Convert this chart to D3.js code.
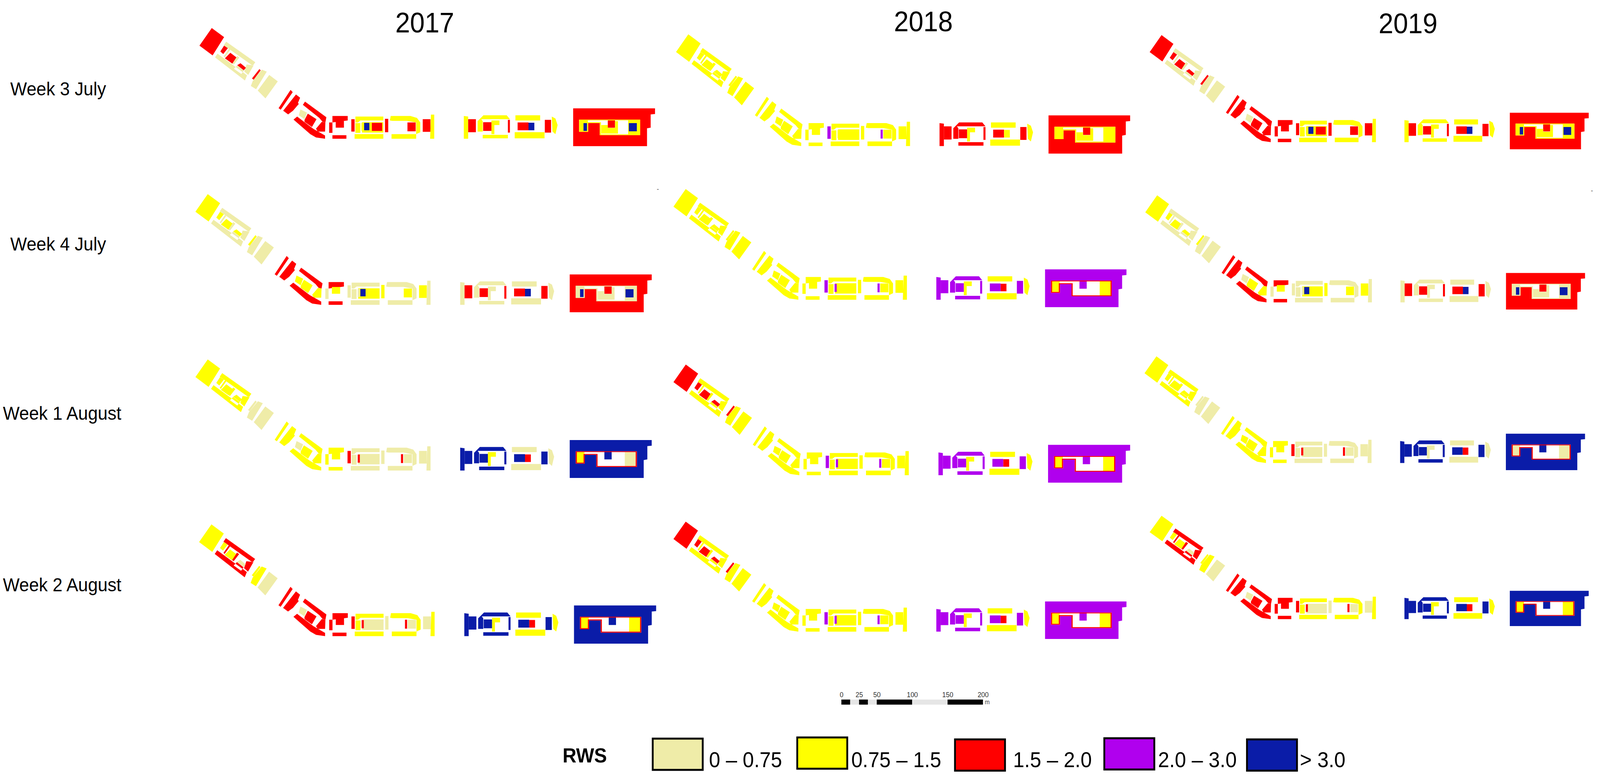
<!DOCTYPE html>
<html>
<head>
<meta charset="utf-8">
<script src="https://cdn.jsdelivr.net/npm/d3@7"></script>
<style>
  html, body { margin: 0; background: white; overflow: hidden; }
  svg { display: block; }
  text { font-family: "Liberation Sans", Arial, sans-serif; fill: black; }
</style>
</head>
<body>
<div id="chart"></div>
<script>
// column and row headings
var years = ["2017", "2018", "2019"];
var weeks = ["Week 3 July", "Week 4 July", "Week 1 August", "Week 2 August"];

// RWS classes
var classLabels = ["0 – 0.75", "0.75 – 1.5", "1.5 – 2.0", "2.0 – 3.0", "> 3.0"];
var classColors = ["#efeca8", "#ffff00", "#ff0000", "#b000ee", "#0a1ca8"];

// RWS class of every zone, same order as zoneOutlines (-1 = nothing drawn)
var july3_2017 = [2,0,2,2,2,0,0,2, 2,2,2,2,0,2,2, 2,2,2,2, 2,1,1,1,4,2, 2,1,-1,2,2,1, 1,2,1,1,2,2, 1,2,4,2, 2,1,4,1,1,4,1];
var july3_2018 = [1,1,1,1,1,1,1,1, 1,1,1,1,1,1,1, 1,1,1,1, 3,1,1,1,1,1, 1,1,3,1,1,1, 2,2,2,1,2,2, 1,2,1,2, 2,1,1,1,1,1,1];
var july3_2019 = [2,0,2,2,2,0,0,2, 2,2,2,2,0,2,2, 2,2,2,2, 2,1,1,1,4,2, 2,1,-1,2,2,1, 1,2,1,1,2,2, 1,2,4,2, 2,1,4,1,1,4,1];
var july4_2017 = [1,0,1,1,1,0,0,1, 2,2,2,1,1,1,2, 2,1,0,2, 0,0,1,0,4,1, 1,0,-1,1,1,0, 0,2,0,0,2,2, 0,2,4,2, 2,0,4,0,0,4,0];
var july4_2018 = [1,1,1,1,1,1,1,1, 1,1,1,1,1,1,1, 1,1,1,1, 3,1,1,3,1,1, 1,1,3,1,1,1, 3,3,3,1,3,3, 1,3,2,3, 3,1,1,-1,1,1,2];
var july4_2019 = [1,0,1,1,1,0,0,1, 2,2,2,1,0,1,2, 2,1,0,2, 0,0,1,0,4,1, 1,0,-1,1,1,0, 0,2,0,0,2,2, 0,2,4,2, 2,0,4,0,0,4,0];
var aug1_2017 = [1,1,1,1,1,0,0,0, 1,1,1,1,0,1,1, 1,1,1,1, 2,0,0,2,0,0, 0,0,2,0,0,0, 4,4,4,1,4,4, 0,4,2,4, 4,1,1,-1,0,0,2];
var aug1_2018 = [2,1,2,2,2,1,1,2, 1,1,1,1,1,1,1, 1,1,1,1, 3,1,1,3,1,1, 1,1,3,1,1,1, 3,3,3,1,3,3, 1,3,2,3, 3,1,1,-1,1,1,2];
var aug1_2019 = [1,1,1,1,1,0,0,0, 1,1,1,1,1,1,1, 1,1,1,1, 2,0,0,2,0,0, 0,0,2,0,0,0, 4,4,4,0,4,4, 0,4,2,4, 4,0,0,-1,0,0,2];
var aug2_2017 = [1,2,1,1,0,1,0,1, 2,2,2,2,0,2,2, 2,2,2,2, 2,1,0,2,0,0, 0,1,2,0,0,1, 4,4,4,1,4,4, 1,4,2,4, 4,1,1,-1,1,1,2];
var aug2_2018 = [2,1,2,2,2,1,1,2, 1,1,1,1,1,1,1, 1,1,1,1, 3,1,1,3,1,1, 1,1,3,1,1,1, 3,3,3,1,3,3, 1,3,2,3, 3,1,1,-1,1,1,2];
var aug2_2019 = [1,2,1,1,0,1,0,1, 2,2,2,2,0,2,2, 2,2,2,2, 2,1,0,2,0,0, 0,1,2,0,0,1, 4,4,4,1,4,4, 1,4,2,4, 4,1,1,-1,1,1,2];

var panelClasses = [
  [july3_2017, july3_2018, july3_2019],
  [july4_2017, july4_2018, july4_2019],
  [aug1_2017, aug1_2018, aug1_2019],
  [aug2_2017, aug2_2018, aug2_2019]
];

// scale bar
var scaleTicks = [0, 25, 50, 100, 150, 200];
var scaleSegments = [[0, 12.5, 1], [12.5, 25, 0], [25, 37.5, 1], [37.5, 50, 0], [50, 100, 1], [100, 150, 0], [150, 200, 1]];

// plan of the site. w = western trace, e = eastern trace
var zoneOutlines = [
  // north-west buildings
  ["w", [[170,65],[245,135],[175,275],[95,200]]],
  ["w", [[258,170],[435,328],[420,355],[243,197]], [[205,262],[385,428],[372,468],[190,290]], [[275,225],[283,232],[250,290],[243,282]], [[325,280],[338,292],[305,345],[293,335]], [[325,352],[365,392],[350,418],[305,378]], [[382,345],[425,352],[392,425],[368,398]]],
  ["w", [[245,200],[268,220],[240,265],[222,245]]],
  ["w", [[283,255],[320,290],[295,338],[250,298]]],
  ["w", [[345,335],[378,370],[365,390],[325,350]]],
  ["w", [[475,385],[505,400],[440,535],[408,510],[420,470]]],
  ["w", [[520,425],[572,475],[497,605],[450,545]]],
  ["w", [[460,380],[468,390],[425,462],[415,452]]],
  // south-west buildings
  ["w", [[650,540],[663,557],[590,692],[577,680]]],
  ["w", [[683,575],[708,600],[695,640],[700,648],[665,700],[635,728],[605,700]]],
  ["w", [[738,630],[868,750],[862,790],[845,785],[825,755],[725,655]]],
  ["w", [[840,785],[862,790],[860,860],[815,860],[805,838]]],
  ["w", [[710,690],[750,715],[735,765],[700,735]]],
  ["w", [[735,770],[755,722],[808,765],[780,825],[735,785]]],
  ["w", [[668,768],[690,745],[790,840],[860,890],[860,915],[805,905],[770,880]]],
  // small court
  ["w", [[905,740],[998,740],[998,775],[905,790]]],
  ["w", [[925,778],[975,778],[975,830],[925,830]]],
  ["w", [[885,790],[905,790],[905,870],[885,870]]],
  ["w", [[905,888],[990,888],[990,915],[905,915]]],
  // first long building
  ["w", [[1020,765],[1040,765],[1040,860],[1020,860]]],
  ["w", [[1045,745],[1215,745],[1215,775],[1075,775],[1060,790],[1045,790]], [[1045,795],[1075,795],[1075,870],[1045,870]], [[1040,880],[1215,880],[1215,915],[1040,915]]],
  ["w", [[1085,788],[1215,788],[1215,868],[1085,868]]],
  ["w", [[1082,793],[1095,793],[1095,855],[1082,855]]],
  ["w", [[1098,793],[1130,793],[1130,850],[1098,850]]],
  ["w", [[1145,793],[1208,793],[1208,855],[1145,855]]],
  ["w", [[1225,762],[1245,762],[1245,865],[1225,865]]],
  ["w", [[1260,740],[1380,740],[1420,755],[1440,790],[1440,865],[1415,880],[1265,880],[1265,915],[1415,915],[1415,880],[1415,790],[1360,778],[1270,778],[1255,775]]],
  ["w", [[1345,790],[1358,790],[1358,858],[1345,858]]],
  ["w", [[1362,790],[1412,790],[1412,858],[1362,858]]],
  ["w", [[1455,765],[1502,765],[1502,862],[1455,862]]],
  ["w", [[1505,730],[1525,730],[1525,915],[1500,915]]],
  // second long building
  ["e", [[155,200],[185,205],[185,375],[155,375]]],
  ["e", [[185,225],[238,225],[238,325],[185,325]]],
  ["e", [[290,195],[450,195],[472,225],[275,225],[285,240],[285,320],[250,320],[250,240]], [[285,345],[458,345],[458,372],[285,372]]],
  ["e", [[345,235],[400,235],[400,270],[365,270],[365,340],[345,340]]],
  ["e", [[288,248],[345,248],[345,315],[288,315]]],
  ["e", [[458,230],[472,230],[472,328],[458,328]]],
  ["e", [[510,195],[680,195],[680,235],[510,235]], [[505,325],[710,325],[710,372],[505,372]], [[760,205],[785,220],[800,270],[785,340],[765,320]]],
  ["e", [[525,250],[600,250],[600,310],[525,310]]],
  ["e", [[600,252],[640,252],[640,310],[600,310]]],
  ["e", [[712,230],[755,230],[755,328],[712,328]]],
  // big block: outer edge, courtyard hole, notch back in the courtyard
  ["e", [[907,142],[1470,142],[1470,185],[1440,188],[1440,290],[1415,295],[1415,432],[907,432]], [[948,228],[1368,228],[1368,348],[1090,348],[1090,255],[1010,255],[1010,322],[948,322]], [[1145,228],[1195,228],[1195,290],[1145,290]]],
  ["e", [[952,232],[1008,232],[1008,320],[952,320]]],
  ["e", [[978,255],[1008,255],[1008,320],[978,320]]],
  ["e", [[1100,270],[1145,270],[1145,292],[1195,292],[1195,240],[1215,240],[1215,335],[1100,335]]],
  ["e", [[1285,232],[1365,232],[1365,345],[1285,345]]],
  ["e", [[1290,255],[1345,255],[1345,318],[1290,318]]],
  ["e", [[948,228],[1368,228],[1368,348],[1090,348],[1090,255],[1010,255],[1010,322],[948,322]], [[956,234],[1360,234],[1360,341],[1098,341],[1098,248],[1002,248],[1002,315],[956,315]]]
];

// where each panel sits: left, top, right, bottom
var panelBoxes = [
  [[542, 72, 1782, 374], [1838, 88, 3074, 393], [3126, 90, 4321, 382]],
  [[531, 497, 1773, 799], [1831, 484, 3064, 786], [3114, 500, 4311, 792]],
  [[531, 920, 1773, 1223], [1831, 933, 3074, 1235], [3112, 912, 4311, 1203]],
  [[541, 1342, 1785, 1647], [1831, 1335, 3064, 1635], [3126, 1320, 4321, 1602]]
];
var mapWidth = 1240, mapHeight = 302;

// the browser window can be narrower than the picture, so fit the drawing to it
var svg = d3.select("#chart")
  .append("svg")
    .attr("viewBox", "0 0 4351 2001")
    .attr("preserveAspectRatio", "none")
    .style("width", "100vw")
    .style("height", "100vh");

svg.append("rect").attr("width", 4351).attr("height", 2001).attr("fill", "white");

// the two traces have their own zoom factors
var traces = {
  w: function(p) { return [p[0] / 2.24 - 42, p[1] / 3 - 22]; },
  e: function(p) { return [p[0] / 2.529 + 658, p[1] / 3 + 158]; }
};

// column titles
var titleX = [1155, 2511, 3829], titleY = [83, 80, 85];
svg.selectAll(".year")
  .data(years)
  .enter()
  .append("text")
    .attr("class", "year")
    .attr("x", function(d, i) { return titleX[i]; })
    .attr("y", function(d, i) { return titleY[i]; })
    .attr("text-anchor", "middle")
    .style("font-size", "72px")
    .text(function(d) { return d; });

// row labels
var labelX = [28, 28, 8, 8], labelY = [244, 641, 1074, 1513];
svg.selectAll(".week")
  .data(weeks)
  .enter()
  .append("text")
    .attr("class", "week")
    .attr("x", function(d, i) { return labelX[i]; })
    .attr("y", function(d, i) { return labelY[i]; })
    .style("font-size", "48px")
    .text(function(d) { return d; });

// one map per week and year
panelClasses.forEach(function(row, r) {
  row.forEach(function(classes, c) {
    var box = panelBoxes[r][c];
    var x = d3.scaleLinear().domain([0, mapWidth]).range([box[0], box[2]]);
    var y = d3.scaleLinear().domain([0, mapHeight]).range([box[1], box[3]]);
    var line = d3.line()
      .x(function(p) { return x(p[0]); })
      .y(function(p) { return y(p[1]); });

    svg.append("g")
      .selectAll("path")
      .data(zoneOutlines)
      .enter()
      .filter(function(d, i) { return classes[i] >= 0; })
      .append("path")
        .attr("fill-rule", "evenodd")
        .attr("fill", function(d) { return classColors[classes[zoneOutlines.indexOf(d)]]; })
        .attr("d", function(d) {
          var trace = traces[d[0]];
          return d.slice(1).map(function(poly) {
            return line(poly.map(trace)) + "Z";
          }).join("");
        });
  });
});

// stray marks beside the first row maps
var dashX = [1789, 4329], dashY = [490, 494];
svg.selectAll(".dash")
  .data(dashX)
  .enter()
  .append("text")
    .attr("class", "dash")
    .attr("x", function(d) { return d; })
    .attr("y", function(d, i) { return dashY[i]; })
    .attr("text-anchor", "middle")
    .style("font-size", "18px")
    .style("fill", "#555")
    .text("-");

// scale bar
var barScale = d3.scaleLinear().domain([0, 200]).range([2288, 2673]);
svg.append("g")
  .attr("transform", "translate(0,1789)")
  .call(d3.axisTop(barScale).tickValues(scaleTicks).tickSize(0).tickPadding(5).tickFormat(d3.format("d")))
  .call(function(g) { g.select(".domain").remove(); })
  .call(function(g) { g.selectAll("text").style("font-size", "18px").style("fill", "#333"); });

svg.selectAll(".seg")
  .data(scaleSegments)
  .enter()
  .append("rect")
    .attr("class", "seg")
    .attr("x", function(d) { return barScale(d[0]); })
    .attr("y", 1790)
    .attr("width", function(d) { return barScale(d[1]) - barScale(d[0]); })
    .attr("height", 13)
    .attr("fill", function(d) { return d[2] ? "black" : "#e6e6e6"; });

svg.append("text")
  .attr("x", 2678)
  .attr("y", 1802)
  .style("font-size", "16px")
  .style("fill", "#444")
  .text("m");

// legend
var legendBoxX = [1775, 2168, 2597, 3003, 3391];
var legendBoxY = [1890, 1887, 1892, 1889, 1892];
var legendTextX = [1928, 2315, 2755, 3149, 3535];

svg.append("text")
  .attr("x", 1530)
  .attr("y", 1951)
  .style("font-size", "52px")
  .style("font-weight", "bold")
  .text("RWS");

svg.selectAll(".legendBox")
  .data(classColors)
  .enter()
  .append("rect")
    .attr("class", "legendBox")
    .attr("x", function(d, i) { return legendBoxX[i]; })
    .attr("y", function(d, i) { return legendBoxY[i]; })
    .attr("width", 136)
    .attr("height", 80)
    .attr("fill", function(d) { return d; })
    .attr("stroke", "black")
    .attr("stroke-width", 5);

svg.selectAll(".legendLabel")
  .data(classLabels)
  .enter()
  .append("text")
    .attr("class", "legendLabel")
    .attr("x", function(d, i) { return legendTextX[i]; })
    .attr("y", 1963)
    .style("font-size", "55px")
    .text(function(d) { return d; });
</script>
</body>
</html>
